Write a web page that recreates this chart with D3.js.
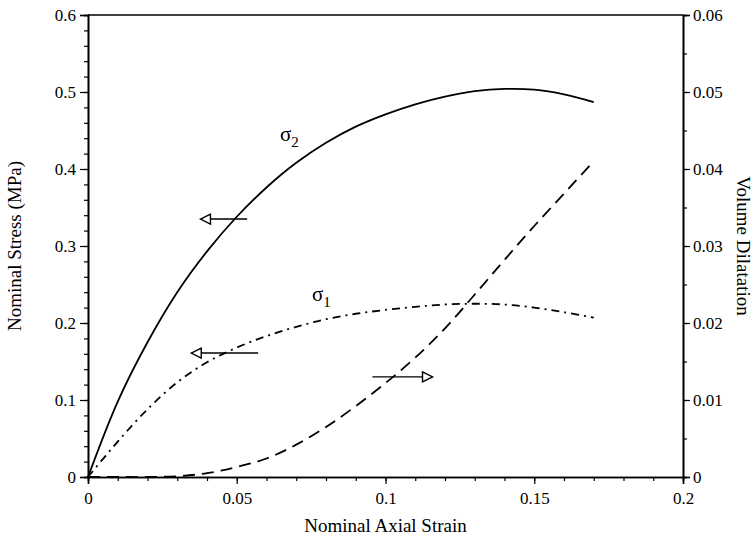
<!DOCTYPE html>
<html>
<head>
<meta charset="utf-8">
<script src="https://cdn.jsdelivr.net/npm/d3@7"></script>
<style>
  body { margin: 0; background: #fff; }
  svg text { font-family: 'Liberation Serif', 'DejaVu Serif', serif !important; fill: #000; }
</style>
</head>
<body>
<div id="chart"></div>
<script>
// strain values (x) shared by all three curves
const strain = [0, 0.01, 0.02, 0.03, 0.04, 0.05, 0.06, 0.07, 0.08, 0.09, 0.1, 0.11, 0.12, 0.13, 0.14, 0.15, 0.16, 0.17];
const sigma2 = [0, 0.098, 0.175, 0.240, 0.293, 0.338, 0.376, 0.408, 0.434, 0.455, 0.471, 0.484, 0.494, 0.501, 0.504, 0.503, 0.497, 0.487];
const sigma1 = [0, 0.046, 0.088, 0.123, 0.149, 0.168, 0.183, 0.195, 0.205, 0.212, 0.217, 0.221, 0.224, 0.225, 0.224, 0.220, 0.214, 0.207];
const dilatation = [0, 0, 0, 0.0001, 0.0005, 0.0013, 0.0024, 0.0042, 0.0065, 0.0092, 0.0122, 0.0155, 0.0193, 0.0237, 0.0282, 0.0326, 0.0368, 0.041];

const xTicks = [0, 0.05, 0.1, 0.15, 0.2];
const xTickLabels = ["0", "0.05", "0.1", "0.15", "0.2"];
const yLeftTicks = [0, 0.1, 0.2, 0.3, 0.4, 0.5, 0.6];
const yLeftLabels = ["0", "0.1", "0.2", "0.3", "0.4", "0.5", "0.6"];
const yRightTicks = [0, 0.01, 0.02, 0.03, 0.04, 0.05, 0.06];
const yRightLabels = ["0", "0.01", "0.02", "0.03", "0.04", "0.05", "0.06"];

const width = 756, height = 544;
const margin = { top: 15, right: 73, bottom: 67, left: 88 };
const innerWidth = width - margin.left - margin.right;
const innerHeight = height - margin.top - margin.bottom;

const svg = d3.select("#chart").append("svg")
  .attr("width", width)
  .attr("height", height)
  .attr("font-family", "Liberation Serif, DejaVu Serif, serif");

const g = svg.append("g").attr("transform", `translate(${margin.left},${margin.top})`);

const x = d3.scaleLinear().domain([0, 0.2]).range([0, innerWidth]);
const yL = d3.scaleLinear().domain([0, 0.6]).range([innerHeight, 0]);
const yR = d3.scaleLinear().domain([0, 0.06]).range([innerHeight, 0]);

// minor ticks (no labels)
const minorX = d3.range(0, 0.2001, 0.01);
const minorL = d3.range(0, 0.6001, 0.02);
const minorR = d3.range(0, 0.0601, 0.005);

g.append("g").attr("class", "minor").attr("transform", `translate(0,${innerHeight})`)
  .call(d3.axisBottom(x).tickValues(minorX).tickSize(4).tickFormat(""));
g.append("g").attr("class", "minor")
  .call(d3.axisLeft(yL).tickValues(minorL).tickSize(4).tickFormat(""));
g.append("g").attr("class", "minor").attr("transform", `translate(${innerWidth},0)`)
  .call(d3.axisRight(yR).tickValues(minorR).tickSize(4).tickFormat(""));
g.selectAll(".minor .tick text").remove();

// major ticks
g.append("g").attr("transform", `translate(0,${innerHeight})`)
  .call(d3.axisBottom(x).tickValues(xTicks).tickSize(7).tickPadding(8)
    .tickFormat((d, i) => xTickLabels[i]));
g.append("g")
  .call(d3.axisLeft(yL).tickValues(yLeftTicks).tickSize(8).tickPadding(4)
    .tickFormat((d, i) => yLeftLabels[i]));
g.append("g").attr("transform", `translate(${innerWidth},0)`)
  .call(d3.axisRight(yR).tickValues(yRightTicks).tickSize(7).tickPadding(3)
    .tickFormat((d, i) => yRightLabels[i]));

g.selectAll("g").attr("font-family", null);
g.selectAll(".tick text").attr("font-size", 17);
g.selectAll(".domain").attr("stroke-width", 1.6);
g.selectAll(".tick line").attr("stroke-width", 1.2);

// top border
g.append("line").attr("x1", 0).attr("x2", innerWidth).attr("y1", 0).attr("y2", 0)
  .attr("stroke", "#000").attr("stroke-width", 1.6);

// curves
const lineL = d3.line().curve(d3.curveCatmullRom)
  .x((d, i) => x(strain[i])).y(d => yL(d));
const lineR = d3.line().curve(d3.curveCatmullRom)
  .x((d, i) => x(strain[i])).y(d => yR(d));

g.append("path").attr("d", lineL(sigma2))
  .attr("fill", "none").attr("stroke", "#000").attr("stroke-width", 1.8);
g.append("path").attr("d", lineL(sigma1))
  .attr("fill", "none").attr("stroke", "#000").attr("stroke-width", 1.8)
  .attr("stroke-dasharray", "8,5,2,5");
g.append("path").attr("d", lineR(dilatation))
  .attr("fill", "none").attr("stroke", "#000").attr("stroke-width", 1.8)
  .attr("stroke-dasharray", "12,7");

// direction arrows
const arrows = [
  { from: 0.0535, to: 0.0378, y: 0.335, axis: "L" },
  { from: 0.0572, to: 0.0347, y: 0.161, axis: "L" },
  { from: 0.0956, to: 0.1158, y: 0.013, axis: "R" }
];
arrows.forEach(a => {
  const yy = a.axis === "L" ? yL(a.y) : yR(a.y);
  const x1 = x(a.from), x2 = x(a.to);
  const dir = Math.sign(x2 - x1);
  const base = x2 - dir * 10;
  g.append("line").attr("x1", x1).attr("x2", base).attr("y1", yy).attr("y2", yy)
    .attr("stroke", "#000").attr("stroke-width", 1.4);
  g.append("path")
    .attr("d", `M${x2},${yy} L${base},${yy - 5} L${base},${yy + 5} Z`)
    .attr("fill", "#fff").attr("stroke", "#000").attr("stroke-width", 1.4);
});

// curve labels
const sigLabels = [
  { sub: "2", sx: 0.0645, sy: 0.437 },
  { sub: "1", sx: 0.0753, sy: 0.228 }
];
sigLabels.forEach(s => {
  const t = g.append("text").attr("x", x(s.sx)).attr("y", yL(s.sy))
    .attr("font-size", 21);
  t.append("tspan").text("σ");
  t.append("tspan").attr("dy", 6).attr("font-size", 15).text(s.sub);
});

// axis titles
svg.append("text")
  .attr("x", margin.left + innerWidth / 2).attr("y", 532)
  .attr("text-anchor", "middle").attr("font-size", 19)
  .text("Nominal Axial Strain");
svg.append("text")
  .attr("transform", `translate(21,${margin.top + innerHeight / 2}) rotate(-90)`)
  .attr("text-anchor", "middle").attr("font-size", 19)
  .text("Nominal Stress (MPa)");
svg.append("text")
  .attr("transform", `translate(737,${margin.top + innerHeight / 2}) rotate(90)`)
  .attr("text-anchor", "middle").attr("font-size", 19)
  .text("Volume Dilatation");
</script>
</body>
</html>
